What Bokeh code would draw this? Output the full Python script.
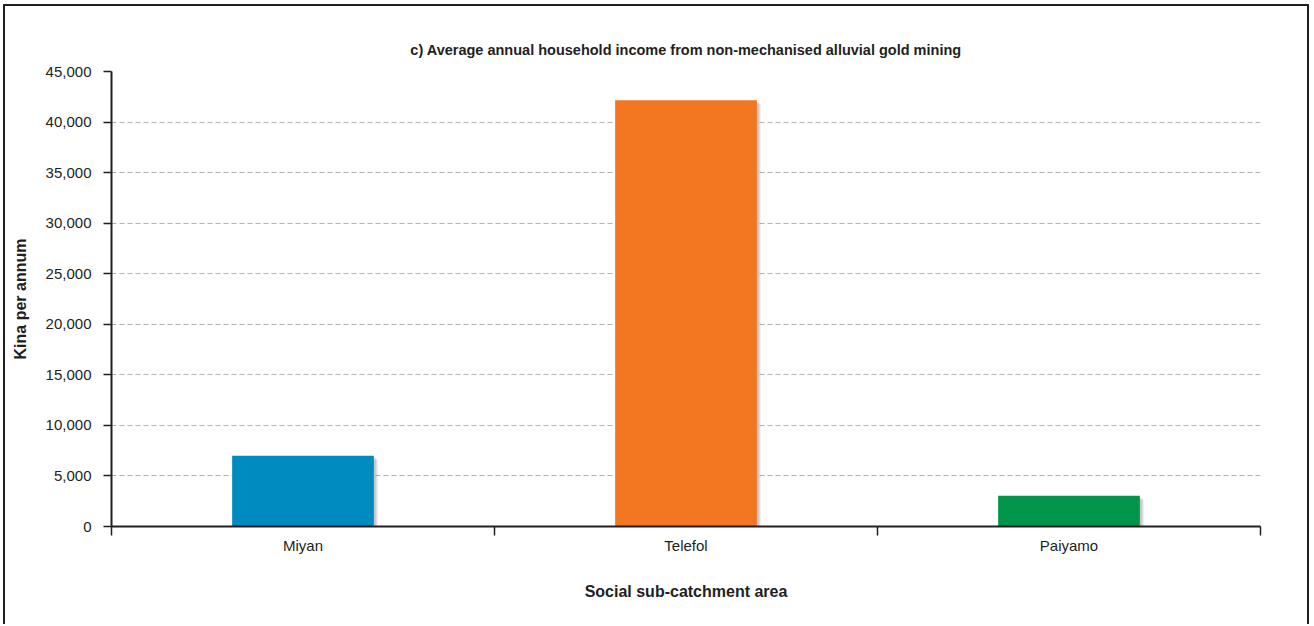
from bokeh.plotting import figure
from bokeh.models import FixedTicker, NumeralTickFormatter, Range1d, ColumnDataSource
from bokeh.embed import file_html
from bokeh.resources import INLINE

# ---- data ----
categories = ["Miyan", "Telefol", "Paiyamo"]
income = [7000, 42150, 3050]
colors = ["#008bc0", "#f37721", "#00954a"]
y_ticks = [0, 5000, 10000, 15000, 20000, 25000, 30000, 35000, 40000, 45000]

title_text = "c) Average annual household income from non-mechanised alluvial gold mining"
x_label = "Social sub-catchment area"
y_label = "Kina per annum"

FONT = "Liberation Sans"
TXT = "#231f20"

n = len(categories)
x_pos = [i + 0.5 for i in range(n)]
bounds = [i for i in range(n + 1)]

p = figure(
    width=1306, height=620,
    x_range=Range1d(0, n), y_range=Range1d(0, y_ticks[-1]),
    output_backend="svg", toolbar_location=None,
    min_border_left=106, min_border_right=51, min_border_top=65, min_border_bottom=100,
    outline_line_color=None, background_fill_color="white", border_fill_color="white",
    styles={"margin-left": "3px", "margin-top": "4px",
            "border-top": "2px solid #231f20", "border-left": "2px solid #231f20",
            "border-right": "2px solid #231f20"},
)

# title
p.title.text = title_text
p.title.align = "center"
p.title.text_font = FONT
p.title.text_font_size = "14.5px"
p.title.text_font_style = "bold"
p.title.text_color = TXT
p.title.standoff = 27

# shadows (px -> data)
px_x = n / 1149.0
px_y = y_ticks[-1] / 455.0
for off, alpha in [(4, 0.10), (3, 0.12), (2, 0.15)]:
    sh = ColumnDataSource(dict(x=[v + off * px_x for v in x_pos],
                               top=[v - off * px_y for v in income],
                               bottom=[-off * px_y] * n))
    p.vbar(x="x", top="top", bottom="bottom", width=0.37, source=sh,
           fill_color="#555555", fill_alpha=alpha, line_color=None)

src = ColumnDataSource(dict(x=x_pos, top=income, color=colors))
p.vbar(x="x", top="top", bottom=0, width=0.37, source=src,
       fill_color="color", line_color=None)

# x axis
xa = p.xaxis[0]
xa.ticker = FixedTicker(ticks=x_pos, minor_ticks=bounds)
xa.major_label_overrides = {x: c for x, c in zip(x_pos, categories)}
xa.major_tick_out = 0
xa.major_tick_in = 0
xa.minor_tick_out = 9
xa.minor_tick_in = 0
xa.minor_tick_line_color = TXT
xa.minor_tick_line_width = 1.5
xa.axis_line_color = TXT
xa.axis_line_width = 2
xa.major_label_text_font = FONT
xa.major_label_text_font_size = "15px"
xa.major_label_text_color = TXT
xa.major_label_standoff = 1
xa.axis_label = x_label
xa.axis_label_text_font = FONT
xa.axis_label_text_font_size = "16px"
xa.axis_label_text_font_style = "bold"
xa.axis_label_text_color = TXT
xa.axis_label_standoff = 26

# y axis
ya = p.yaxis[0]
ya.ticker = FixedTicker(ticks=y_ticks, minor_ticks=[])
ya.formatter = NumeralTickFormatter(format="0,0")
ya.major_tick_out = 8
ya.major_tick_in = 0
ya.major_tick_line_color = TXT
ya.major_tick_line_width = 1.5
ya.axis_line_color = TXT
ya.axis_line_width = 2
ya.major_label_text_font = FONT
ya.major_label_text_font_size = "15px"
ya.major_label_text_color = TXT
ya.major_label_standoff = 12
ya.axis_label = y_label
ya.axis_label_text_font = FONT
ya.axis_label_text_font_size = "16px"
ya.axis_label_text_font_style = "bold"
ya.axis_label_text_color = TXT
ya.axis_label_standoff = 14

p.xgrid.visible = False
p.ygrid.grid_line_color = "#b3b3b3"
p.ygrid.grid_line_dash = "5 3"
p.ygrid.grid_line_width = 1

open("out.html", "w").write(file_html(p, INLINE))
